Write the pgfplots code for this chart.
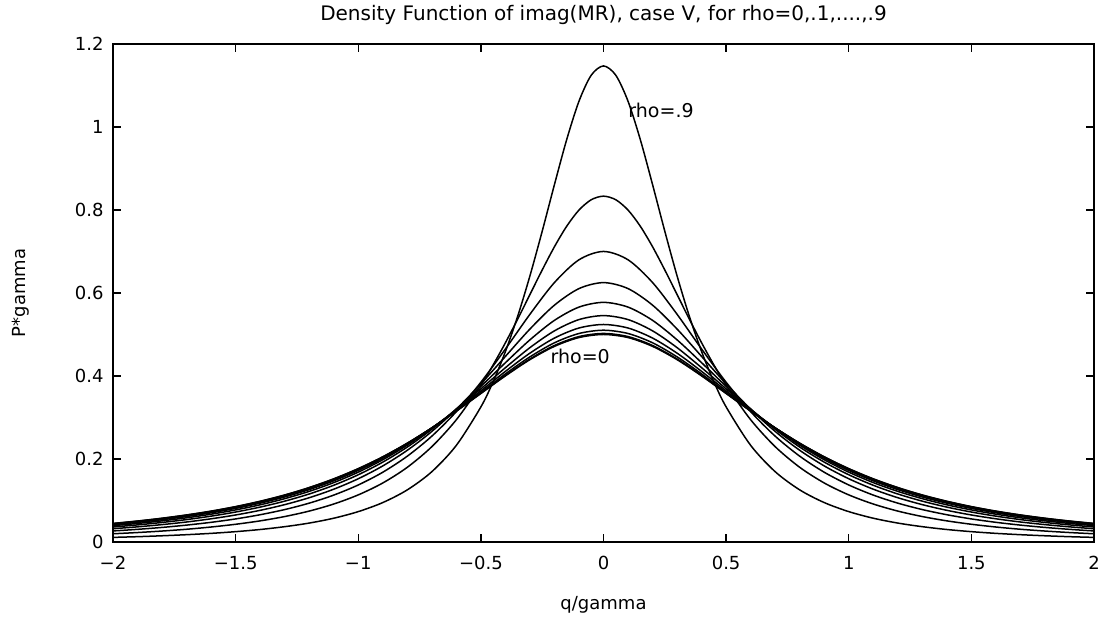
\documentclass[border=0pt]{standalone}
\usepackage{fontspec}
\setmainfont{DejaVu Sans}
\usepackage{pgfplots}
\pgfplotsset{compat=1.18}
\usepackage{pgfplotstable}

\pgfplotstableread{
x r0 r1 r2 r3 r4 r5 r6 r7
-2.0 0.0447 0.0444 0.0435 0.0418 0.0394 0.0362 0.0320 0.0266
-1.9 0.0505 0.0502 0.0491 0.0473 0.0447 0.0412 0.0365 0.0305
-1.8 0.0573 0.0569 0.0558 0.0538 0.0510 0.0471 0.0419 0.0351
-1.7 0.0652 0.0648 0.0635 0.0614 0.0583 0.0540 0.0482 0.0407
-1.6 0.0744 0.0740 0.0727 0.0704 0.0670 0.0623 0.0559 0.0474
-1.5 0.0853 0.0849 0.0835 0.0810 0.0773 0.0722 0.0651 0.0556
-1.4 0.0982 0.0977 0.0962 0.0936 0.0896 0.0841 0.0763 0.0657
-1.3 0.1133 0.1128 0.1113 0.1085 0.1044 0.0984 0.0900 0.0781
-1.2 0.1312 0.1307 0.1291 0.1263 0.1220 0.1157 0.1067 0.0936
-1.1 0.1522 0.1517 0.1502 0.1474 0.1431 0.1367 0.1272 0.1130
-1.0 0.1768 0.1763 0.1749 0.1724 0.1683 0.1620 0.1524 0.1374
-0.9 0.2053 0.2050 0.2038 0.2017 0.1982 0.1925 0.1833 0.1681
-0.8 0.2381 0.2379 0.2372 0.2358 0.2333 0.2288 0.2210 0.2068
-0.7 0.2749 0.2749 0.2749 0.2747 0.2738 0.2716 0.2664 0.2550
-0.6 0.3153 0.3156 0.3165 0.3179 0.3195 0.3207 0.3200 0.3142
-0.5 0.3578 0.3585 0.3606 0.3642 0.3691 0.3750 0.3811 0.3849
-0.4 0.4002 0.4014 0.4050 0.4111 0.4200 0.4320 0.4472 0.4650
-0.3 0.4394 0.4410 0.4461 0.4550 0.4683 0.4871 0.5131 0.5487
-0.2 0.4714 0.4735 0.4800 0.4914 0.5088 0.5341 0.5707 0.6252
-0.1 0.4926 0.4950 0.5024 0.5156 0.5359 0.5660 0.6106 0.6800
0.0 0.5000 0.5025 0.5103 0.5241 0.5455 0.5774 0.6250 0.7001
0.1 0.4926 0.4950 0.5024 0.5156 0.5359 0.5660 0.6106 0.6800
0.2 0.4714 0.4735 0.4800 0.4914 0.5088 0.5341 0.5707 0.6252
0.3 0.4394 0.4410 0.4461 0.4550 0.4683 0.4871 0.5131 0.5487
0.4 0.4002 0.4014 0.4050 0.4111 0.4200 0.4320 0.4472 0.4650
0.5 0.3578 0.3585 0.3606 0.3642 0.3691 0.3750 0.3811 0.3849
0.6 0.3153 0.3156 0.3165 0.3179 0.3195 0.3207 0.3200 0.3142
0.7 0.2749 0.2749 0.2749 0.2747 0.2738 0.2716 0.2664 0.2550
0.8 0.2381 0.2379 0.2372 0.2358 0.2333 0.2288 0.2210 0.2068
0.9 0.2053 0.2050 0.2038 0.2017 0.1982 0.1925 0.1833 0.1681
1.0 0.1768 0.1763 0.1749 0.1724 0.1683 0.1620 0.1524 0.1374
1.1 0.1522 0.1517 0.1502 0.1474 0.1431 0.1367 0.1272 0.1130
1.2 0.1312 0.1307 0.1291 0.1263 0.1220 0.1157 0.1067 0.0936
1.3 0.1133 0.1128 0.1113 0.1085 0.1044 0.0984 0.0900 0.0781
1.4 0.0982 0.0977 0.0962 0.0936 0.0896 0.0841 0.0763 0.0657
1.5 0.0853 0.0849 0.0835 0.0810 0.0773 0.0722 0.0651 0.0556
1.6 0.0744 0.0740 0.0727 0.0704 0.0670 0.0623 0.0559 0.0474
1.7 0.0652 0.0648 0.0635 0.0614 0.0583 0.0540 0.0482 0.0407
1.8 0.0573 0.0569 0.0558 0.0538 0.0510 0.0471 0.0419 0.0351
1.9 0.0505 0.0502 0.0491 0.0473 0.0447 0.0412 0.0365 0.0305
2.0 0.0447 0.0444 0.0435 0.0418 0.0394 0.0362 0.0320 0.0266
}\tblA

\pgfplotstableread{
x r8 r9
-2.0 0.0198 0.0111
-1.9 0.0228 0.0128
-1.8 0.0264 0.0150
-1.7 0.0307 0.0176
-1.6 0.0361 0.0208
-1.5 0.0427 0.0249
-1.4 0.0509 0.0301
-1.3 0.0613 0.0369
-1.2 0.0745 0.0456
-1.1 0.0915 0.0573
-1.0 0.1135 0.0732
-0.9 0.1422 0.0950
-0.8 0.1800 0.1256
-0.7 0.2297 0.1694
-0.6 0.2946 0.2329
-0.5 0.3778 0.3255
-0.45 0.4267 0.3863
-0.4 0.4800 0.4588
-0.35 0.5371 0.5438
-0.3 0.5963 0.6412
-0.25 0.6554 0.7487
-0.2 0.7115 0.8613
-0.15 0.7609 0.9698
-0.1 0.7998 1.0621
-0.05 0.8247 1.1248
0.0 0.8333 1.1471
0.05 0.8247 1.1248
0.1 0.7998 1.0621
0.15 0.7609 0.9698
0.2 0.7115 0.8613
0.25 0.6554 0.7487
0.3 0.5963 0.6412
0.35 0.5371 0.5438
0.4 0.4800 0.4588
0.45 0.4267 0.3863
0.5 0.3778 0.3255
0.6 0.2946 0.2329
0.7 0.2297 0.1694
0.8 0.1800 0.1256
0.9 0.1422 0.0950
1.0 0.1135 0.0732
1.1 0.0915 0.0573
1.2 0.0745 0.0456
1.3 0.0613 0.0369
1.4 0.0509 0.0301
1.5 0.0427 0.0249
1.6 0.0361 0.0208
1.7 0.0307 0.0176
1.8 0.0264 0.0150
1.9 0.0228 0.0128
2.0 0.0198 0.0111
}\tblB

\begin{document}
\begin{tikzpicture}
\begin{axis}[
  scale only axis,
  width=490.5pt, height=249pt,
  xmin=-2, xmax=2, ymin=0, ymax=1.2,
  xtick={-2,-1.5,-1,-0.5,0,0.5,1,1.5,2},
  xticklabels={−2,−1.5,−1,−0.5,0,0.5,1,1.5,2},
  ytick={0,0.2,0.4,0.6,0.8,1,1.2},
  yticklabels={0,0.2,0.4,0.6,0.8,1,1.2},
  tick align=inside,
  major tick length=4pt,
  axis line style={line width=0.8pt},
  every tick/.style={black, line width=0.7pt},
  tick label style={font=\fontsize{9}{10}\selectfont, inner sep=0pt},
  xticklabel style={anchor=base, yshift=-14pt},
  yticklabel style={anchor=east, xshift=-4.5pt},
  every axis title shift=0pt,
  title={Density Function of imag(MR), case V, for rho=0,.1,....,.9},
  title style={at={(axis description cs:0.5,1.058)}, anchor=center, font=\fontsize{10}{12}\selectfont, inner sep=0pt},
  xlabel={q/gamma},
  xlabel style={at={(axis description cs:0.5,-0.1265)}, anchor=center, font=\fontsize{9}{10}\selectfont, inner sep=0pt},
  ylabel={P*gamma},
  ylabel style={at={(axis description cs:-0.0938,0.5)}, anchor=center, font=\fontsize{9}{10}\selectfont, inner sep=0pt},
  cycle list={black},
  every axis plot post/.append style={black, solid, line width=0.75pt, smooth, mark=none},
]
\addplot table[x=x, y=r0] {\tblA};
\addplot table[x=x, y=r1] {\tblA};
\addplot table[x=x, y=r2] {\tblA};
\addplot table[x=x, y=r3] {\tblA};
\addplot table[x=x, y=r4] {\tblA};
\addplot table[x=x, y=r5] {\tblA};
\addplot table[x=x, y=r6] {\tblA};
\addplot table[x=x, y=r7] {\tblA};
\addplot table[x=x, y=r8] {\tblB};
\addplot table[x=x, y=r9] {\tblB};
\node[anchor=west, inner sep=0pt, font=\fontsize{9.5}{11}\selectfont] at (axis cs:0.1,1.041) {rho=.9};
\node[anchor=center, inner sep=0pt, font=\fontsize{9.5}{11}\selectfont] at (axis cs:-0.095,0.448) {rho=0};
\end{axis}
\pgfresetboundingbox
\path ([xshift=-56.5pt,yshift=-41pt]current axis.south west) rectangle ([xshift=6.5pt,yshift=22pt]current axis.north east);
\end{tikzpicture}
\end{document}
